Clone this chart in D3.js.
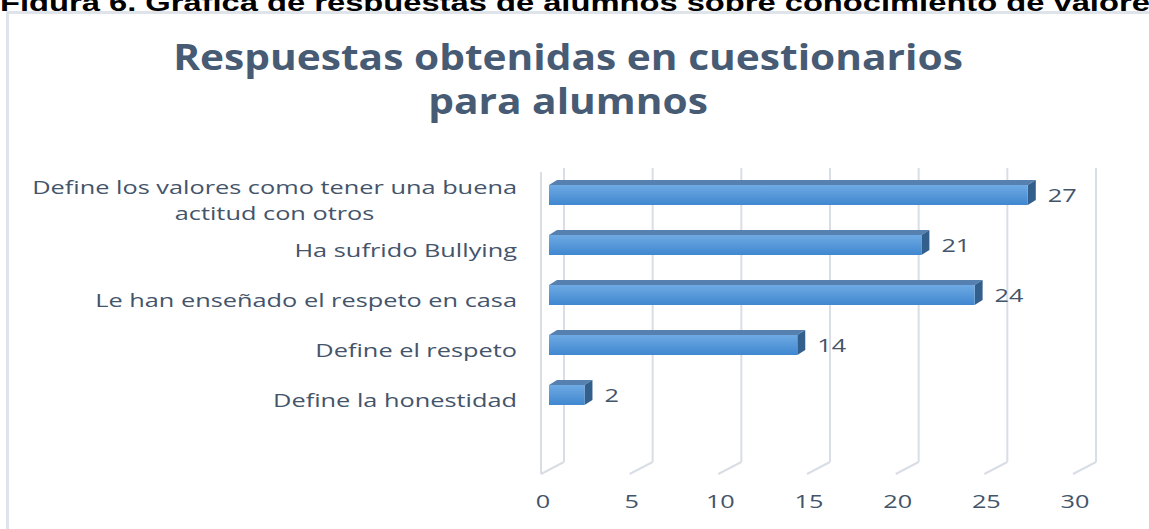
<!DOCTYPE html>
<html>
<head>
<meta charset="utf-8">
<script src="https://cdn.jsdelivr.net/npm/d3@7"></script>
<style>
  body { margin: 0; background: #fff; }
  svg { display: block; }
</style>
</head>
<body>
<div id="chart"></div>
<script>
// chart values
const categories = [
  "Define los valores como tener una buena\nactitud con otros",
  "Ha sufrido Bullying",
  "Le han enseñado el respeto en casa",
  "Define el respeto",
  "Define la honestidad"
];
const values = [27, 21, 24, 14, 2];
const xTicks = [0, 5, 10, 15, 20, 25, 30];
const titleLines = ["Respuestas obtenidas en cuestionarios", "para alumnos"];
const caption = "Figura  6. Gráfica de respuestas de alumnos sobre conocimiento de valores";

const width = 1149, height = 529;
const textColor = "#44546a";
const gridColor = "#d9dee6";
const font = "'Open Sans', 'Noto Sans', sans-serif";
const stretch = 1.33;      // the original picture is widened horizontally
const labelStretch = 1.37;
const titleStretch = 1.13;

const svg = d3.select("#chart").append("svg")
    .attr("width", width)
    .attr("height", height);

// gradient for the bar front faces
const defs = svg.append("defs");
const grad = defs.append("linearGradient")
    .attr("id", "barFront")
    .attr("x1", "0%").attr("x2", "0%")
    .attr("y1", "0%").attr("y2", "100%");
grad.append("stop").attr("offset", "0%").attr("stop-color", "#6faae3");
grad.append("stop").attr("offset", "100%").attr("stop-color", "#3f87cf");

// caption above the chart (cut off at the top in the original)
svg.append("text")
    .attr("x", 0)
    .attr("y", 11)
    .attr("textLength", 1168)
    .attr("lengthAdjust", "spacingAndGlyphs")
    .style("font-family", "'Liberation Sans', Arial, sans-serif")
    .style("font-weight", "bold")
    .style("font-size", "24px")
    .attr("fill", "#000")
    .text(caption);

// chart frame
svg.append("rect")
    .attr("x", 7.5)
    .attr("y", 12.5)
    .attr("width", width + 20)
    .attr("height", height)
    .attr("fill", "#fff")
    .attr("stroke", "#dfe4ea")
    .attr("stroke-width", 3);

// title, two centred lines
svg.append("g").selectAll("text")
    .data(titleLines)
    .enter().append("text")
      .attr("transform", (d, i) => `translate(568,${70 + i * 44}) scale(${titleStretch},1)`)
      .attr("text-anchor", "middle")
      .style("font-family", font)
      .style("font-weight", "bold")
      .style("font-size", "36px")
      .attr("fill", "#475b74")
      .text(d => d);

// 3D layout: front plane scale, depth offset for the back wall
const x = d3.scaleLinear().domain([0, 30]).range([541, 1073]);
const depth = {dx: 23, dy: -12};
const barDepth = {dx: 8, dy: -5};
const barFront = {dx: 8, dy: -4};
const floorY = 474;
const wallTop = 168;

const y = d3.scaleBand()
    .domain(categories)
    .range([170, 420])
    .paddingInner(0.6)
    .paddingOuter(0.3);

const grid = svg.append("g");

// left wall front edge
grid.append("line")
    .attr("x1", x(0)).attr("x2", x(0))
    .attr("y1", wallTop + 4).attr("y2", floorY)
    .attr("stroke", gridColor).attr("stroke-width", 2);

// back wall gridlines and floor diagonals
xTicks.forEach(t => {
    grid.append("line")
        .attr("x1", x(t) + depth.dx).attr("x2", x(t) + depth.dx)
        .attr("y1", wallTop).attr("y2", floorY + depth.dy)
        .attr("stroke", gridColor).attr("stroke-width", 2);
    grid.append("line")
        .attr("x1", x(t) + depth.dx).attr("x2", x(t))
        .attr("y1", floorY + depth.dy).attr("y2", floorY)
        .attr("stroke", gridColor).attr("stroke-width", 2);
});

// tick labels
svg.append("g").selectAll("text")
    .data(xTicks)
    .enter().append("text")
      .attr("transform", d => `translate(${x(d) + 2},508) scale(${stretch},1)`)
      .attr("text-anchor", "middle")
      .style("font-family", font)
      .style("font-size", "19px")
      .attr("fill", textColor)
      .text(d => d);

// bars
const bars = svg.append("g").selectAll("g")
    .data(categories.map((c, i) => ({cat: c, value: values[i]})))
    .enter().append("g");

bars.each(function(d) {
    const g = d3.select(this);
    const x0 = x(0) + barFront.dx, x1 = x(d.value) + barFront.dx;
    const y0 = y(d.cat), y1 = y(d.cat) + y.bandwidth();
    const bx = barDepth.dx, by = barDepth.dy;
    // top face
    g.append("path")
        .attr("d", `M${x0},${y0}L${x0 + bx},${y0 + by}L${x1 + bx},${y0 + by}L${x1},${y0}Z`)
        .attr("fill", "#5580b0");
    // side face
    g.append("path")
        .attr("d", `M${x1},${y0}L${x1 + bx},${y0 + by}L${x1 + bx},${y1 + by}L${x1},${y1}Z`)
        .attr("fill", "#335f8d");
    // front face
    g.append("rect")
        .attr("x", x0)
        .attr("y", y0)
        .attr("width", x1 - x0)
        .attr("height", y.bandwidth())
        .attr("fill", "url(#barFront)");
    // value label
    g.append("text")
        .attr("transform", `translate(${x1 + bx + 12},${(y0 + y1) / 2}) scale(${stretch},1)`)
        .attr("dy", "0.36em")
        .style("font-family", font)
        .style("font-size", "19px")
        .attr("fill", textColor)
        .text(d.value);
});

// category labels, right aligned against the axis
const labels = svg.append("g").selectAll("g")
    .data(categories)
    .enter().append("g")
      .attr("transform", d => `translate(517,${y(d) + y.bandwidth() / 2 + 5}) scale(${labelStretch},1)`);

labels.each(function(d) {
    const g = d3.select(this);
    const lines = d.split("\n");
    const t = g.append("text")
        .style("font-family", font)
        .style("font-size", "18.5px")
        .attr("fill", textColor);
    if (lines.length === 1) {
        t.attr("x", 0).attr("dy", "0.36em").attr("text-anchor", "end").text(d);
    } else {
        // wrapped label: lines centred on each other
        const first = t.append("tspan").attr("x", 0).attr("y", -13)
            .attr("dy", "0.36em").attr("text-anchor", "end").text(lines[0]);
        const w = first.node().getComputedTextLength();
        t.append("tspan").attr("x", -w / 2).attr("y", 13)
            .attr("dy", "0.36em").attr("text-anchor", "middle").text(lines[1]);
    }
});
</script>
</body>
</html>
